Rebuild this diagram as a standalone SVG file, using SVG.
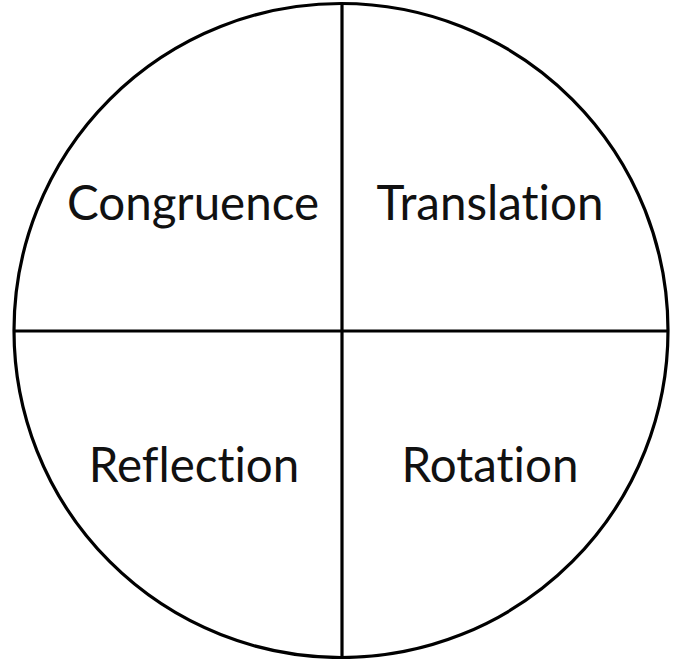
<svg xmlns="http://www.w3.org/2000/svg" width="673" height="659" viewBox="0 0 673 659">
<style>
.t{font-family:Lato,"Open Sans",sans-serif;font-size:47.5px;fill:#111;text-anchor:middle;font-variant-ligatures:none;font-feature-settings:"liga" 0}
.l{stroke:#000;stroke-width:3.2;fill:none}
</style>
<rect width="673" height="659" fill="#fff"/>
<g id="connectors">
<circle class="l" cx="341" cy="330.5" r="327"/>
<line class="l" x1="342" y1="4" x2="342" y2="657"/>
<line class="l" x1="14" y1="331" x2="668" y2="331"/>
</g>
<g id="congruence"><text class="t" x="193" y="220">Congruence</text></g>
<g id="translation"><text class="t" x="490" y="220">Translation</text></g>
<g id="reflection"><text class="t" x="194" y="482">Reflection</text></g>
<g id="rotation"><text class="t" x="490" y="482">Rotation</text></g>
</svg>
